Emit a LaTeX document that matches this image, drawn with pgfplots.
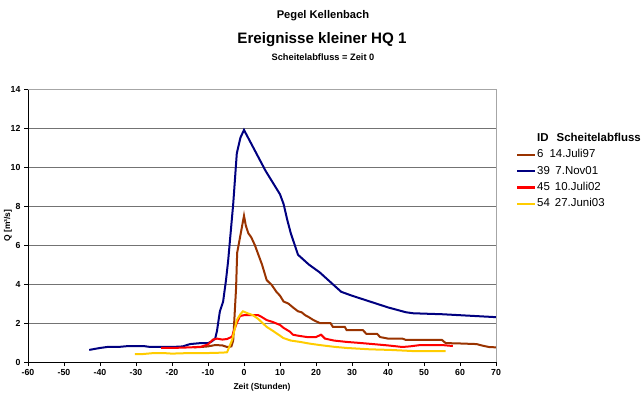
\documentclass[border=0pt]{standalone}
\usepackage{pgfplots}
\pgfplotsset{compat=1.18}
\usepackage{fontspec}
\setmainfont{Liberation Sans}
\definecolor{cbrown}{HTML}{993300}
\definecolor{cblue}{HTML}{000080}
\definecolor{cred}{HTML}{FF0000}
\definecolor{cyellow}{HTML}{FFCC00}
\begin{document}
\begin{tikzpicture}[x=1bp,y=1bp]
\path[use as bounding box] (0,0) rectangle (643,402);
\node[font=\bfseries\fontsize{11.2}{13}\selectfont] at (323,386) {Pegel Kellenbach};
\node[font=\bfseries\fontsize{15.2}{18}\selectfont] at (322,362) {Ereignisse kleiner HQ 1};
\node[font=\bfseries\fontsize{9.3}{11}\selectfont] at (323,345) {Scheitelabfluss = Zeit 0};
\begin{axis}[
  at={(28bp,40bp)}, anchor=south west,
  scale only axis, width=468bp, height=273bp,
  xmin=-60, xmax=70, ymin=0, ymax=14,
  xtick={-60,-50,...,70}, ytick={0,2,...,14},
  axis lines*=left, axis line style={-,black,line width=0.6bp},
  tick align=outside, major tick length=4bp,
  tick style={black,line width=0.6bp},
  ymajorgrids, grid style={gray!90!black,line width=0.8bp},
  ticklabel style={font=\bfseries\fontsize{8.8}{10}\selectfont},
  /pgf/number format/assume math mode=true,
  xlabel={Zeit (Stunden)}, ylabel={Q [m³/s]},
  label style={font=\bfseries\fontsize{8.5}{10}\selectfont},
  xlabel style={at={(axis description cs:0.5,-0.092)},anchor=center},
  ylabel style={at={(axis description cs:-0.043,0.5)},anchor=center},
  legend style={at={(1.036,0.85)},anchor=north west,draw=none,fill=none,
    font=\fontsize{11.5}{13}\selectfont,
    nodes={inner sep=1bp,text height=8.5bp,text depth=2.3bp},
    row sep=3.5bp},
  legend cell align=left,
  clip=false,
]
\addlegendimage{empty legend}
\addlegendentry{\bfseries ID\hspace{8bp}Scheitelabfluss}
\addlegendimage{legend image code/.code={\draw[cbrown,line width=2.2bp] (0bp,0bp) -- (18bp,0bp);}}
\addlegendentry{6\hspace{6bp}14.Juli97}
\addlegendimage{legend image code/.code={\draw[cblue,line width=2.2bp] (0bp,0bp) -- (18bp,0bp);}}
\addlegendentry{39\hspace{5.5bp}7.Nov01}
\addlegendimage{legend image code/.code={\draw[cred,line width=2.2bp] (0bp,0bp) -- (18bp,0bp);}}
\addlegendentry{45\hspace{5bp}10.Juli02}
\addlegendimage{legend image code/.code={\draw[cyellow,line width=2.2bp] (0bp,0bp) -- (18bp,0bp);}}
\addlegendentry{54\hspace{5bp}27.Juni03}
\addplot[cbrown, line width=2bp, forget plot] coordinates {
(-14,0.75) (-12,0.77) (-10,0.8) (-8,0.87) (-6,0.85) (-4.7,0.77) (-3.5,0.8)
(-3,1.1) (-2.2,3.8) (-1.9,5.6) (-1,6.5) (0,7.5) (0.5,7.0) (1.2,6.6) (2,6.4)
(3,6.0) (5,5.0) (6.3,4.2) (7.7,3.95) (9,3.6) (10,3.4) (11,3.1) (12.3,3.0)
(13.6,2.8) (15,2.6) (16,2.55) (17,2.4) (18,2.3) (19.3,2.15) (21,2.0) (24,2.0)
(24.7,1.8) (28,1.8) (28.5,1.64) (33,1.64) (34,1.44) (37,1.44) (37.8,1.28)
(40,1.2) (44,1.2) (45,1.13) (50,1.13) (55,1.13) (56,0.97) (60,0.95)
(64.6,0.92) (66,0.85) (68,0.77) (70,0.75)};
\addplot[cblue, line width=2bp, forget plot] coordinates {
(-43,0.62) (-40,0.72) (-38,0.77) (-35,0.77) (-32,0.82) (-28,0.82) (-26,0.77)
(-20,0.77) (-17,0.8) (-15,0.92) (-12,0.97) (-10,0.97) (-9,1.05) (-8,1.2)
(-7.5,1.6) (-6.7,2.6) (-5.8,3.1) (-5,4.2) (-4.4,5.2) (-3,8.1) (-2,10.7)
(-1,11.5) (0,11.9) (2,11.2) (4,10.5) (6,9.8) (8,9.2) (10,8.6) (11,8.1)
(12,7.3) (13,6.6) (15,5.5) (18,5.0) (21,4.6) (24,4.1) (27,3.6) (30,3.4)
(35,3.1) (40,2.8) (45,2.55) (47,2.5) (50,2.48) (55,2.45) (60,2.4) (65,2.35)
(70,2.3)};
\addplot[cred, line width=2bp, forget plot] coordinates {
(-23,0.72) (-20,0.72) (-15,0.75) (-12,0.78) (-10,0.9) (-8.6,1.15) (-7.5,1.2)
(-6,1.15) (-4.7,1.18) (-3.3,1.3) (-3,1.5) (-2,2.0) (-1.1,2.36) (0,2.4)
(2,2.4) (4,2.4) (5,2.3) (6.3,2.15) (8,2.05) (10,1.9) (11,1.75) (12.8,1.55)
(13.6,1.4) (15,1.35) (17.5,1.28) (20,1.28) (21.4,1.4) (22.5,1.2) (25,1.1)
(28.5,1.03) (32,0.98) (35.8,0.92) (40,0.85) (44,0.77) (46,0.8) (49,0.87)
(55,0.87) (58,0.82)};
\addplot[cyellow, line width=2bp, forget plot] coordinates {
(-30.3,0.41) (-28,0.41) (-25,0.46) (-22.5,0.46) (-20,0.43) (-15,0.46)
(-10,0.46) (-6,0.48) (-4.7,0.5) (-3.3,1.13) (-2,2.15) (-1,2.45) (-0.3,2.6)
(1,2.5) (2.5,2.4) (4,2.2) (6.3,1.8) (8,1.6) (10,1.35) (10.9,1.23) (13,1.1)
(15.6,1.03) (18,0.95) (21,0.87) (25,0.78) (28.5,0.72) (35,0.65) (40.5,0.62)
(45,0.58) (47,0.56) (52,0.56) (56,0.56)};
\draw[gray!70,line width=0.8bp] (rel axis cs:0,1) -- (rel axis cs:1,1) -- (rel axis cs:1,0);
\end{axis}
\end{tikzpicture}
\end{document}
